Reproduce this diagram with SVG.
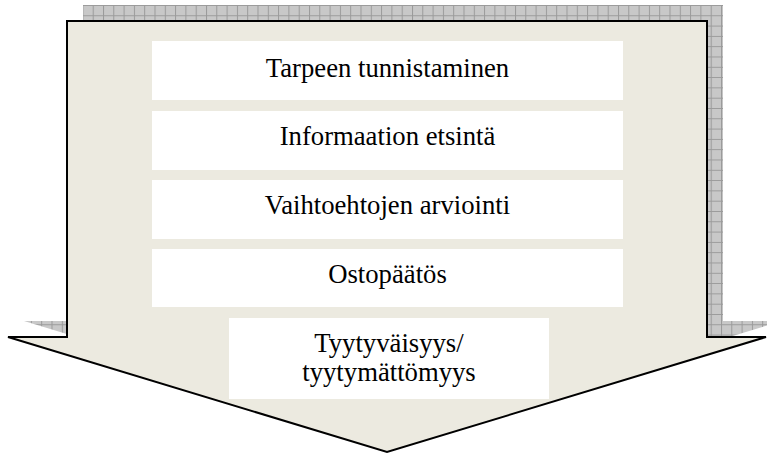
<svg xmlns="http://www.w3.org/2000/svg" width="767" height="454" viewBox="0 0 767 454">
  <defs>
    <pattern id="mesh" patternUnits="userSpaceOnUse" width="10.3" height="10.3" x="0" y="5">
      <rect width="10.3" height="10.3" fill="#c8c8c8"/>
      <path d="M0,0.5 H10.3 M0.5,0 V10.3" stroke="#9a9a9a" stroke-width="1" fill="none"/>
    </pattern>
  </defs>
  <style>
    .box { fill: #ffffff; }
    .lbl { font-family: "Liberation Serif", "Times New Roman", serif; font-size: 26.7px; fill: #000000; text-anchor: middle; }
    .arrow { fill: #ECEAE0; stroke: #000000; stroke-width: 2; stroke-linejoin: miter; }
  </style>
  <g id="arrow">
    <path id="arrow-shadow" d="M83,5 L723,5 L723,321 L782,321 L403,436 L24,321 L83,321 Z" fill="url(#mesh)"/>
    <path class="arrow" d="M67,21 L707,21 L707,337 L766,337 L387,452 L8,337 L67,337 Z"/>
  </g>
  <g id="connectors"></g>
  <g id="node1">
    <rect class="box" x="152" y="41" width="471" height="59"/>
    <text class="lbl" x="387.5" y="76.5">Tarpeen tunnistaminen</text>
  </g>
  <g id="node2">
    <rect class="box" x="152" y="111" width="471" height="59"/>
    <text class="lbl" x="387.5" y="145">Informaation etsintä</text>
  </g>
  <g id="node3">
    <rect class="box" x="152" y="180" width="471" height="59"/>
    <text class="lbl" x="387.5" y="214.3">Vaihtoehtojen arviointi</text>
  </g>
  <g id="node4">
    <rect class="box" x="152" y="249" width="471" height="58"/>
    <text class="lbl" x="387.5" y="283.3">Ostopäätös</text>
  </g>
  <g id="node5">
    <rect class="box" x="229" y="318" width="320" height="81"/>
    <text class="lbl" x="389" y="351.5">Tyytyväisyys/</text>
    <text class="lbl" x="389" y="381">tyytymättömyys</text>
  </g>
</svg>
